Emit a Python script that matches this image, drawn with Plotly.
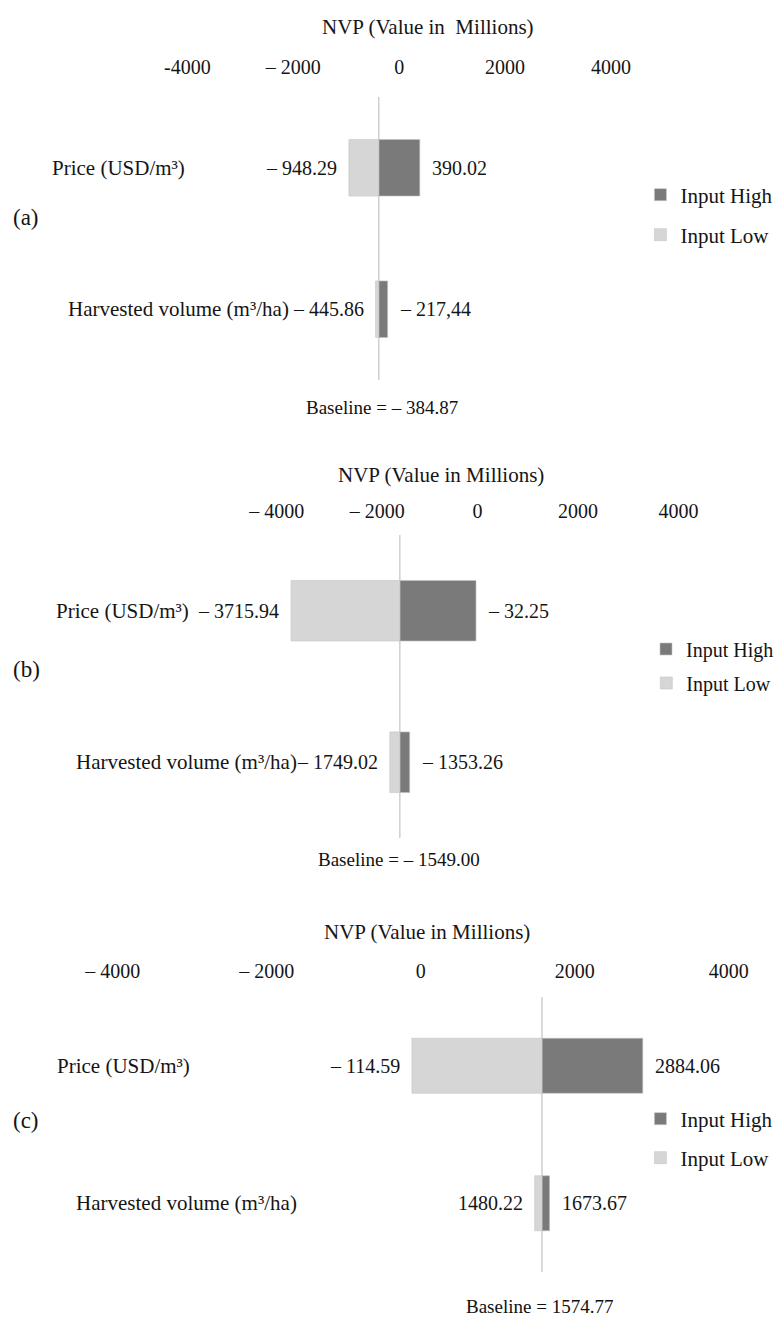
import plotly.graph_objects as go

# ---------------- data ----------------
CATEGORIES = ["Harvested volume (m³/ha)", "Price (USD/m³)"]   # bottom -> top
SERIES = ["Input High", "Input Low"]

A_BASELINE = -384.87
A_LOW = [-445.86, -948.29]
A_HIGH = [-217.44, 390.02]
A_LOW_TEXT = ["– 445.86", "– 948.29"]
A_HIGH_TEXT = ["– 217,44", "390.02"]

B_BASELINE = -1549.00
B_LOW = [-1749.02, -3715.94]
B_HIGH = [-1353.26, -32.25]
B_LOW_TEXT = ["– 1749.02", "– 3715.94"]
B_HIGH_TEXT = ["– 1353.26", "– 32.25"]

C_BASELINE = 1574.77
C_LOW = [1480.22, -114.59]
C_HIGH = [1673.67, 2884.06]
C_LOW_TEXT = ["1480.22", "– 114.59"]
C_HIGH_TEXT = ["1673.67", "2884.06"]

BASELINE_TEXT = ["Baseline = – 384.87", "Baseline = – 1549.00", "Baseline = 1574.77"]
PANEL_TAGS = ["(a)", "(b)", "(c)"]
AXIS_TITLES = ["NVP (Value in  Millions)", "NVP (Value in Millions)", "NVP (Value in Millions)"]
TICK_VALUES = [-4000, -2000, 0, 2000, 4000]
TICK_TEXT_A = ["-4000", "– 2000", "0", "2000", "4000"]
TICK_TEXT_BC = ["– 4000", "– 2000", "0", "2000", "4000"]

# ---------------- style / layout ----------------
W, H = 779, 1320
DARK = "#7a7a7a"
LIGHT = "#d6d6d6"
LINE = "#cfcfcf"
TXT = "#151515"
FONT = "Liberation Serif"

def px(xp):
    return xp / W

def py(yp):
    return 1 - yp / H

panels = [
    dict(base=A_BASELINE, low=A_LOW, high=A_HIGH, lt=A_LOW_TEXT, ht=A_HIGH_TEXT, ticks=TICK_TEXT_A,
         zero=407, ppk=54.0, top=97, bot=380, title=(436, 27), standoff=18,
         cat_right=[297, 191], tag_y=217, leg_y=(195, 235), leg_x=653, leg_fs=21, base_xy=(390, 407)),
    dict(base=B_BASELINE, low=B_LOW, high=B_HIGH, lt=B_LOW_TEXT, ht=B_HIGH_TEXT, ticks=TICK_TEXT_BC,
         zero=487, ppk=51.2, top=535, bot=838, title=(450, 475), standoff=12,
         cat_right=[305, 195], tag_y=669, leg_y=(649, 683), leg_x=659, leg_fs=20, base_xy=(407, 859)),
    dict(base=C_BASELINE, low=C_LOW, high=C_HIGH, lt=C_LOW_TEXT, ht=C_HIGH_TEXT, ticks=TICK_TEXT_BC,
         zero=429, ppk=78.5, top=997, bot=1272, title=(435, 932), standoff=14,
         cat_right=[305, 196], tag_y=1120, leg_y=(1119, 1158), leg_x=653, leg_fs=21, base_xy=(550, 1306)),
]

fig = go.Figure()
annotations = []
shapes = []
layout_axes = {}

for i, p in enumerate(panels):
    sfx = "" if i == 0 else str(i + 1)
    xa, ya = "x" + sfx, "y" + sfx
    leg_hi = "legend" if i == 0 else "legend" + str(2 * i + 1)
    leg_lo = "legend" + str(2 * i + 2)

    fig.add_trace(go.Bar(
        y=CATEGORIES, x=[v - p["base"] for v in p["high"]], base=p["base"],
        orientation="h", name=SERIES[0], marker=dict(color=DARK, line=dict(color="#c4c4c4", width=0.6)),
        width=0.4, xaxis=xa, yaxis=ya, legend=leg_hi, hoverinfo="skip"))
    fig.add_trace(go.Bar(
        y=CATEGORIES, x=[v - p["base"] for v in p["low"]], base=p["base"],
        orientation="h", name=SERIES[1], marker=dict(color=LIGHT, line=dict(color="#c4c4c4", width=0.6)),
        width=0.4, xaxis=xa, yaxis=ya, legend=leg_lo, hoverinfo="skip"))

    # x range derived from pixel anchors of the reference axis
    lo = -p["zero"] / p["ppk"] * 1000
    hi = (W - p["zero"]) / p["ppk"] * 1000
    layout_axes["xaxis" + sfx] = dict(
        domain=[0, 1], range=[lo, hi], side="top", anchor=ya,
        tickvals=TICK_VALUES, ticktext=p["ticks"], ticks="", showline=False,
        showgrid=False, zeroline=False, ticklabelstandoff=p["standoff"],
        tickfont=dict(family=FONT, size=20, color=TXT), fixedrange=True)
    layout_axes["yaxis" + sfx] = dict(
        domain=[py(p["bot"]), py(p["top"])], range=[-0.5, 1.5], anchor=xa,
        type="category", categoryorder="array", categoryarray=CATEGORIES,
        showticklabels=False, ticks="", showline=False, showgrid=False,
        zeroline=False, fixedrange=True)

    # baseline vertical line
    shapes.append(dict(type="line", xref=xa, yref=ya + " domain", x0=p["base"], x1=p["base"],
                       y0=0, y1=1, line=dict(color=LINE, width=1.5), layer="below"))

    # value labels
    for c, v, t in zip(CATEGORIES, p["low"], p["lt"]):
        annotations.append(dict(xref=xa, yref=ya, x=v, y=c, text=t, showarrow=False,
                                xanchor="right", xshift=-10, font=dict(family=FONT, size=20, color=TXT)))
    for c, v, t in zip(CATEGORIES, p["high"], p["ht"]):
        annotations.append(dict(xref=xa, yref=ya, x=v, y=c, text=t, showarrow=False,
                                xanchor="left", xshift=10, font=dict(family=FONT, size=20, color=TXT)))
    # category labels
    for c, r in zip(CATEGORIES, p["cat_right"]):
        annotations.append(dict(xref="paper", yref=ya, x=px(r), y=c, text=c, showarrow=False,
                                xanchor="right", font=dict(family=FONT, size=21, color=TXT)))
    # axis title
    annotations.append(dict(xref="paper", yref="paper", x=px(p["title"][0]), y=py(p["title"][1]),
                            text=AXIS_TITLES[i], showarrow=False, xanchor="center", yanchor="middle",
                            font=dict(family=FONT, size=21, color=TXT)))
    # baseline text
    annotations.append(dict(xref="paper", yref="paper", x=px(p["base_xy"][0]), y=py(p["base_xy"][1]),
                            text=BASELINE_TEXT[i], showarrow=False, xanchor="center", yanchor="middle",
                            font=dict(family=FONT, size=19, color="#111111")))
    # panel tag
    annotations.append(dict(xref="paper", yref="paper", x=px(27), y=py(p["tag_y"]),
                            text=PANEL_TAGS[i], showarrow=False, xanchor="center", yanchor="middle",
                            font=dict(family=FONT, size=23, color=TXT)))
    # legends
    for name, ly in ((leg_hi, p["leg_y"][0]), (leg_lo, p["leg_y"][1])):
        layout_axes[name] = dict(x=px(p["leg_x"]), y=py(ly), xanchor="left", yanchor="middle",
                                 bgcolor="rgba(0,0,0,0)", borderwidth=0,
                                 font=dict(family=FONT, size=p["leg_fs"], color=TXT))

fig.update_layout(
    width=W, height=H, margin=dict(l=0, r=0, t=0, b=0),
    paper_bgcolor="white", plot_bgcolor="white", barmode="overlay",
    showlegend=True, annotations=annotations, shapes=shapes,
    font=dict(family=FONT, color=TXT), **layout_axes)

fig.write_html("out.html", config={"displayModeBar": False},
               post_script="document.body.style.margin='0';")
